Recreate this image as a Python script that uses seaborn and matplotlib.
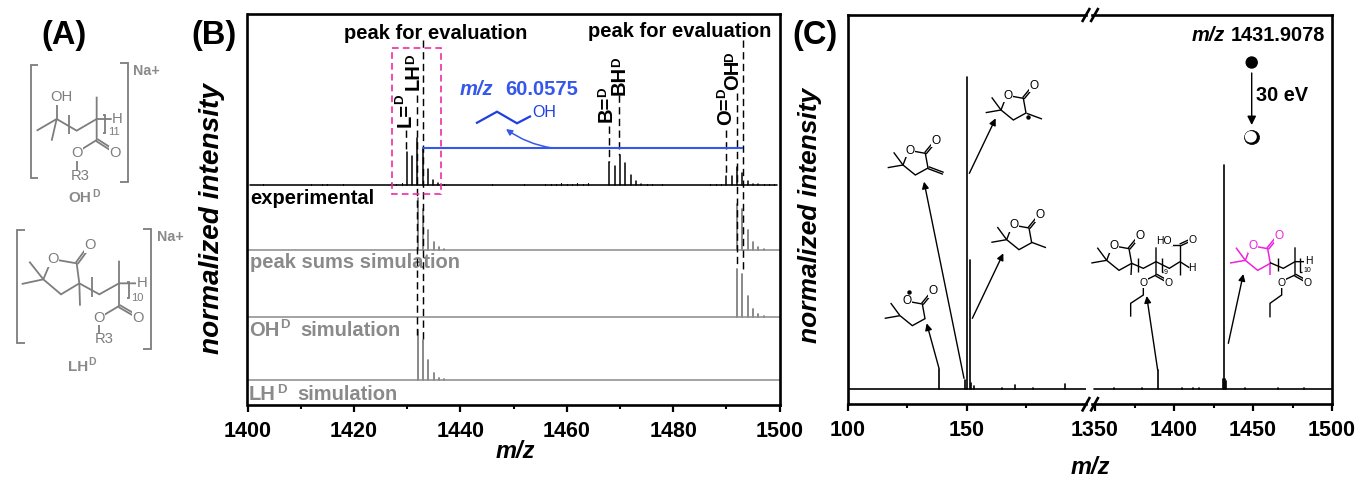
import numpy as np
import pandas as pd
import matplotlib
matplotlib.use("Agg")
import matplotlib.pyplot as plt
from matplotlib.patches import Ellipse, Rectangle
import seaborn as sns

# ---------- data (m/z and intensity) ----------
exp_mz = [1429.9, 1430.9, 1431.9, 1432.9, 1433.9, 1434.9, 1435.9,
          1468, 1469, 1470, 1471, 1472, 1473, 1474,
          1490, 1491, 1492, 1493, 1494, 1495, 1496]
exp_int = [33, 29, 47, 37, 16, 5, 2,
           23, 19, 30, 22, 10, 4, 1.5,
           9, 9, 18, 12, 4.5, 1.5, 1]
noise_mz = [1402, 1403, 1404, 1411, 1412, 1413, 1414, 1415, 1416, 1418, 1420,
            1423, 1427, 1428, 1429, 1437, 1445, 1446, 1452, 1454, 1456, 1457,
            1458, 1459, 1460, 1461, 1462, 1463, 1464, 1475, 1476, 1477, 1478,
            1487, 1488, 1489, 1497, 1498, 1499]
noise_int = [0.5, 0.7, 0.5, 0.5, 0.7, 0.5, 0.7, 0.6, 0.5, 0.7, 0.5,
             0.5, 2.5, 1.5, 2.5, 1, 0.5, 0.6, 0.6, 0.5, 0.8, 1,
             1.3, 1.6, 1.1, 1, 1.6, 1, 1.6, 0.7, 0.6, 0.5, 0.6,
             0.6, 0.8, 0.8, 0.8, 1.2, 0.6]
sum_mz = [1432, 1433, 1434, 1435, 1436, 1437,
          1492, 1493, 1494, 1495, 1496, 1497]
sum_int = [52, 41, 20, 8, 3, 1,
           46, 41, 20, 8, 3, 1]
oh_mz = [1492, 1493, 1494, 1495, 1496, 1497]
oh_int = [48, 43, 21, 8, 3, 1]
lh_mz = [1432, 1433, 1434, 1435, 1436, 1437]
lh_int = [50, 40, 20, 7, 2, 1]
frag_low_mz = [138.3, 149.2, 150, 151.4, 152, 153, 165, 170.4, 178, 191.4]
frag_low_int = [20, 9, 312, 129, 6, 3, 1, 4, 1.5, 5]
frag_high_mz = [1362, 1380, 1389.7, 1405, 1412, 1416, 1431, 1431.6, 1432, 1433, 1445, 1466, 1482]
frag_high_int = [1, 1, 19, 1, 1.5, 1, 10, 224, 10, 8, 1, 1, 1]
x_ticks_b = [1400, 1420, 1440, 1460, 1480, 1500]
x_ticks_c_low = [100, 150]
x_ticks_c_high = [1350, 1400, 1450, 1500]

W, H = 1359, 479
GREY = "#8a8a8a"
CHEM_GREY = "#7d7d7d"
PINK = "#ee2f9f"
BLUE = "#3558ea"
MAG = "#ee22dd"

sns.set_theme(style="ticks")
plt.rcParams["font.family"] = ["Liberation Sans", "DejaVu Sans"]
plt.rcParams["font.weight"] = "bold"

fig = plt.figure(figsize=(W / 100, H / 100), dpi=100, facecolor="white")


def px_axes(l, t, r, b):
    return fig.add_axes([l / W, 1 - b / H, (r - l) / W, (b - t) / H])


def stems(ax, mz, inten, base, color, lw):
    n = len(mz)
    df = pd.DataFrame({
        "mz": np.repeat(mz, 2),
        "y": np.ravel(np.column_stack([np.full(n, base, float), base + np.asarray(inten, float)])),
        "id": np.repeat(np.arange(n), 2),
    })
    sns.lineplot(data=df, x="mz", y="y", units="id", estimator=None, sort=False,
                 color=color, lw=lw, ax=ax, legend=False, errorbar=None)
    ax.set_xlabel("")
    ax.set_ylabel("")


def style(ax, xlim, ylim, major, minor):
    ax.set_xlim(*xlim)
    ax.set_ylim(*ylim)
    ax.set_yticks([])
    ax.set_xticks(major)
    ax.set_xticks(minor, minor=True)
    ax.tick_params(axis="x", which="major", length=4.8, width=1.6, pad=6.5, labelsize=15.5,
                   color="black", labelcolor="black")
    ax.tick_params(axis="x", which="minor", length=2.8, width=1.5, color="black")
    for lab in ax.get_xticklabels():
        lab.set_fontweight("bold")
    for s in ax.spines.values():
        s.set_linewidth(1.9)
        s.set_color("black")


# ---------- panel B ----------
axb = px_axes(247.5, 14, 779.5, 405)
BASE_EXP, BASE_SUM, BASE_OH, BASE_LH = 220, 155.5, 88, 25
stems(axb, exp_mz, exp_int, BASE_EXP, "black", 1.1)
stems(axb, noise_mz, noise_int, BASE_EXP, "black", 0.8)
axb.axhline(BASE_EXP, color="black", lw=1.15, xmin=0.004, xmax=0.995)
stems(axb, sum_mz, sum_int, BASE_SUM, "#777777", 1.2)
stems(axb, oh_mz, oh_int, BASE_OH, "#808080", 1.3)
stems(axb, lh_mz, lh_int, BASE_LH, "#808080", 1.3)
for b in (BASE_SUM, BASE_OH, BASE_LH):
    axb.axhline(b, color=GREY, lw=1.1)
style(axb, (1400, 1500), (0, 391), x_ticks_b, [1410, 1430, 1450, 1470, 1490])

# ---------- panel C (broken x axis) ----------
axc1 = px_axes(848, 15, 1086, 404)
axc2 = px_axes(1092, 15, 1332, 404)
BASE_C = 15
stems(axc1, frag_low_mz, frag_low_int, BASE_C, "black", 1.2)
stems(axc2, frag_high_mz, frag_high_int, BASE_C, "black", 1.2)
axc1.axhline(BASE_C, color="black", lw=1.2)
axc2.axhline(BASE_C, color="black", lw=1.2, xmin=0.01)
style(axc1, (100, 200.3), (0, 389), x_ticks_c_low, [125, 175])
style(axc2, (1348.1, 1500), (0, 389), x_ticks_c_high, [1375, 1425, 1475])
axc1.spines["right"].set_visible(False)
axc2.spines["left"].set_visible(False)

# ---------- overlay in image pixels: labels and chemical sketches ----------
ov = fig.add_axes([0, 0, 1, 1], zorder=10)
ov.set_xlim(0, W)
ov.set_ylim(H, 0)
ov.axis("off")
ov.patch.set_alpha(0)


def T(x, y, s, size=14.5, color="black", ha="center", va="center", rot=0, style="normal", weight="bold", z=5, bg=False):
    kw = {}
    if bg:
        kw["bbox"] = dict(fc="white", ec="none", pad=0.4)
    return ov.text(x, y, s, fontsize=size, color=color, ha=ha, va=va, rotation=rot,
                   fontstyle=style, fontweight=weight, zorder=z, **kw)


def L(xs, ys, color="black", lw=1.0, ls="-", z=4):
    ov.plot(xs, ys, color=color, lw=lw, ls=ls, zorder=z, solid_capstyle="butt", solid_joinstyle="miter")


def arrow(x0, y0, x1, y1, color="black", lw=1.0, ms=10, conn=None):
    ov.annotate("", xy=(x1, y1), xytext=(x0, y0), zorder=6,
                arrowprops=dict(arrowstyle="-|>", color=color, lw=lw, mutation_scale=ms,
                                shrinkA=0, shrinkB=0,
                                connectionstyle=conn or "arc3"))


# panel letters
T(64, 35, "(A)", 23.5)
T(214, 35, "(B)", 23.5)
T(815, 35, "(C)", 23.5)

# axis titles
T(212, 218, "normalized intensity", 20.2, rot=90, style="italic")
T(810, 215, "normalized intensity", 19, rot=90, style="italic")
T(515, 451, "m/z", 17, style="italic")
T(1090, 468, "m/z", 17, style="italic")

# panel B labels
T(435.5, 33, "peak for evaluation")
T(680, 31, "peak for evaluation")
T(250, 199, "experimental", ha="left")
T(250, 262, "peak sums simulation", color=GREY, ha="left", z=2)
T(249, 331, "OH", color=GREY, ha="left", z=2)
T(280, 325, "D", 9.5, color=GREY, ha="left", z=2)
T(300, 331, "simulation", color=GREY, ha="left", z=2)
T(249, 395, "LH", color=GREY, ha="left", z=2)
T(277, 390, "D", 9.5, color=GREY, ha="left", z=2)
T(297, 395, "simulation", color=GREY, ha="left", z=2)

DASH = (0, (5, 3))
for x, y0, y1 in [(406, 130, 152), (417, 95, 335), (422.5, 40, 342),
                  (608.5, 126, 162), (619, 95, 155),
                  (726, 130, 176), (737, 93, 268), (742.5, 40, 272)]:
    L([x, x], [y0, y1], lw=1.05, ls=DASH, z=3)

# rotated peak labels: (base x, bottom y, text) with their D superscripts
for x, y, s in [(405, 127, "L="), (413.5, 90, "LH"), (606, 122, "B="), (619.5, 95, "BH"),
                (726, 125, "O="), (733, 90, "OH")]:
    T(x, y, s, 14.5, rot=90, va="bottom")
for x, y in [(400, 104), (411, 64), (603, 97), (617, 67), (722, 98), (730, 62)]:
    T(x, y, "D", 9.5, rot=90, va="bottom")

ov.add_patch(Rectangle((392, 47.7), 48.7, 146.3, fill=False, ec=PINK, lw=1.2, ls=(0, (4, 2.5)), zorder=6))
L([422, 743], [148, 148], color=BLUE, lw=1.5, z=4)
T(460, 89, "m/z", 14.5, color=BLUE, ha="left", style="italic")
T(505, 89, "60.0575", 14.5, color=BLUE, ha="left")
L([476, 497, 517, 531], [123.3, 111.7, 123.3, 116], color="#1f3fe0", lw=1.6)
T(532, 112, "OH", 11.5, color="#1f3fe0", ha="left", weight="normal")
arrow(552, 148, 506, 129, color=BLUE, lw=1.1, ms=9, conn="arc3,rad=-0.12")


# ---------- chemical sketches ----------
def chem(segs, ox, oy, color="black", lw=1.0):
    for seg in segs:
        xs = [ox + p[0] / 3 for p in seg]
        ys = [oy + p[1] / 3 for p in seg]
        L(xs, ys, color=color, lw=lw, z=7)


def dbl(a, b, g=6):
    a, b = np.array(a, float), np.array(b, float)
    n = np.array([-(b - a)[1], (b - a)[0]])
    n = n / np.hypot(*n) * g / 2
    return [[tuple(a + n), tuple(b + n)], [tuple(a - n), tuple(b - n)]]


def atoms(items, ox, oy, color="black", size=8.6, weight="normal"):
    for s, x, y in items:
        T(ox + x / 3, oy + y / 3, s, size, color=color, weight=weight, z=8, bg=(s in ("O", "OH", "HO")))


def lactone(ox, oy, ax0=0, ay0=0, color="black", lw=1.0, closed=True):
    p = lambda dx, dy: (ax0 + dx, ay0 + dy)
    ring = [p(12, 2), p(45, 8), p(53, 52), p(15, 73), p(-22, 43)]
    if closed:
        ring.append(p(-10, 12))
    segs = [ring, [p(-22, 43), p(-50, 5)], [p(-22, 43), p(-68, 51)]]
    segs += dbl(p(45, 8), p(68, -20), 6)
    chem(segs, ox, oy, color, lw)
    atoms([("O", ax0, ay0), ("O", ax0 + 78, ay0 - 30)], ox, oy, color)


# panel A top
chem([[(115, 195), (92, 195), (92, 533), (115, 533)],
      [(360, 190), (385, 190), (385, 545), (360, 545)],
      [(110, 392), (170, 357), (230, 392), (290, 357), (335, 357)],
      [(170, 357), (170, 312)], [(170, 357), (155, 422)], [(207, 345), (207, 402)],
      [(290, 290), (290, 420), (245, 448)], [(230, 475), (230, 510)],
      [(310, 345), (316, 345), (316, 400), (310, 400)]] + dbl((290, 420), (332, 447), 7),
     0, 0, CHEM_GREY, 1.3)
atoms([("OH", 185, 292), ("H", 352, 357), ("O", 230, 460), ("O", 345, 460), ("R3", 242, 527)], 0, 0, CHEM_GREY, 10.6)
atoms([("11", 343, 397)], 0, 0, CHEM_GREY, 8)
T(146, 71, "Na+", 10.3, color=GREY)
T(80, 198, "OH", 11, color=GREY)
T(96, 194, "D", 7.5, color=GREY)

# panel A bottom
chem([[(75, 690), (50, 690), (50, 1028), (75, 1028)],
      [(430, 688), (452, 688), (452, 1048), (430, 1048)],
      [(172, 780), (230, 790), (238, 850), (183, 883), (130, 838), (148, 795)],
      [(130, 838), (88, 785)], [(130, 838), (65, 852)],
      [(238, 850), (240, 917)], [(238, 850), (298, 883), (357, 850), (408, 850)],
      [(277, 832), (277, 890)], [(357, 782), (357, 918), (312, 945)],
      [(297, 970), (297, 1000)],
      [(380, 845), (387, 845), (387, 895), (380, 895)]]
     + dbl((230, 790), (258, 752), 7) + dbl((357, 918), (400, 943), 7),
     0, 0, CHEM_GREY, 1.3)
atoms([("O", 158, 778), ("O", 270, 735), ("H", 425, 850), ("O", 297, 953), ("O", 415, 953), ("R3", 312, 1018)], 0, 0, CHEM_GREY, 10.6)
atoms([("10", 413, 893)], 0, 0, CHEM_GREY, 8)
T(170, 237, "Na+", 10.3, color=GREY)
T(78, 367, "LH", 11, color=GREY)
T(92, 362, "D", 7.5, color=GREY)

# panel C lactones (offsets are zoomed sketch units)
OX5, OY5 = 830, 60
lactone(OX5, OY5, 535, 107)
chem([[(590, 160), (636, 177)]], OX5, OY5)
ov.plot([OX5 + 595 / 3], [OY5 + 170 / 3], "o", color="black", ms=2.2, zorder=8)
lactone(OX5, OY5, 241, 272)
chem(dbl((295, 323), (340, 340), 6), OX5, OY5)
lactone(OX5, OY5, 552, 496)
chem([[(605, 547), (648, 563)]], OX5, OY5)
lactone(OX5, OY5, 232, 724, closed=False)
ov.plot([OX5 + 237 / 3], [OY5 + 697 / 3], "o", color="black", ms=2.2, zorder=8)

for a in [(327, 925, 290, 790), (402, 955, 282, 365), (418, 340, 497, 175), (427, 775, 520, 580)]:
    arrow(OX5 + a[0] / 3, OY5 + a[1] / 3, OX5 + a[2] / 3, OY5 + a[3] / 3)

# panel C large structures
OX6, OY6 = 1080, 0
lactone(OX6, OY6, 102, 738)
chem([[(155, 790), (153, 825)], [(155, 790), (190, 805), (228, 785), (268, 805), (300, 785)],
      [(175, 775), (175, 815)], [(228, 742), (228, 825), (198, 840)],
      [(245, 775), (245, 815), (250, 815)], [(190, 860), (190, 885), (152, 910), (152, 950)],
      [(300, 735), (300, 825)], [(272, 735), (300, 735)], [(300, 785), (328, 803)]]
     + dbl((228, 825), (255, 840), 6) + dbl((300, 735), (328, 722), 6), OX6, OY6)
atoms([("O", 190, 848), ("O", 265, 848), ("HO", 253, 722), ("O", 338, 721), ("H", 337, 805)], OX6, OY6, size=7.5)
atoms([("9", 258, 816)], OX6, OY6, size=5)

lactone(OX6, OY6, 518, 738, color=MAG, lw=1.1)
chem([[(570, 788), (570, 825)]], OX6, OY6, MAG, 1.1)
chem([[(570, 788), (610, 805), (645, 785), (672, 785)], [(595, 775), (595, 812)],
      [(645, 742), (645, 825), (613, 840)], [(660, 775), (660, 815), (665, 815)],
      [(605, 862), (605, 885), (570, 910), (570, 952)]]
     + dbl((645, 825), (672, 840), 6), OX6, OY6)
atoms([("H", 688, 783), ("O", 605, 848), ("O", 682, 848)], OX6, OY6, size=7.5)
atoms([("10", 682, 812)], OX6, OY6, size=5)

for a in [(233, 1110, 200, 888), (445, 1030, 490, 822)]:
    arrow(OX6 + a[0] / 3, OY6 + a[1] / 3, OX6 + a[2] / 3, OY6 + a[3] / 3)

# precursor annotation
T(1192, 35, "m/z", 14.4, ha="left", style="italic")
T(1325, 35, "1431.9078", 14.4, ha="right")
T(1256, 95, "30 eV", 14.4, ha="left")
arrow(1251.7, 73, 1251.7, 125, ms=13, lw=1.0)
ov.add_patch(Ellipse((1251.7, 62.5), 11, 11, fc="black", ec="black", zorder=7))
ov.add_patch(Ellipse((1252, 137.5), 15, 14, fc="black", ec="black", lw=0.5, zorder=7))
ov.add_patch(Ellipse((1250.8, 136.8), 12, 11.5, fc="white", ec="none", zorder=8))

# axis break marks
for x in (1082, 1090.5):
    L([x, x + 8], [411.5, 397], lw=1.9, z=7)
    L([x, x + 8], [22, 8], lw=1.9, z=7)

fig.savefig("out.png", dpi=100, facecolor="white")
